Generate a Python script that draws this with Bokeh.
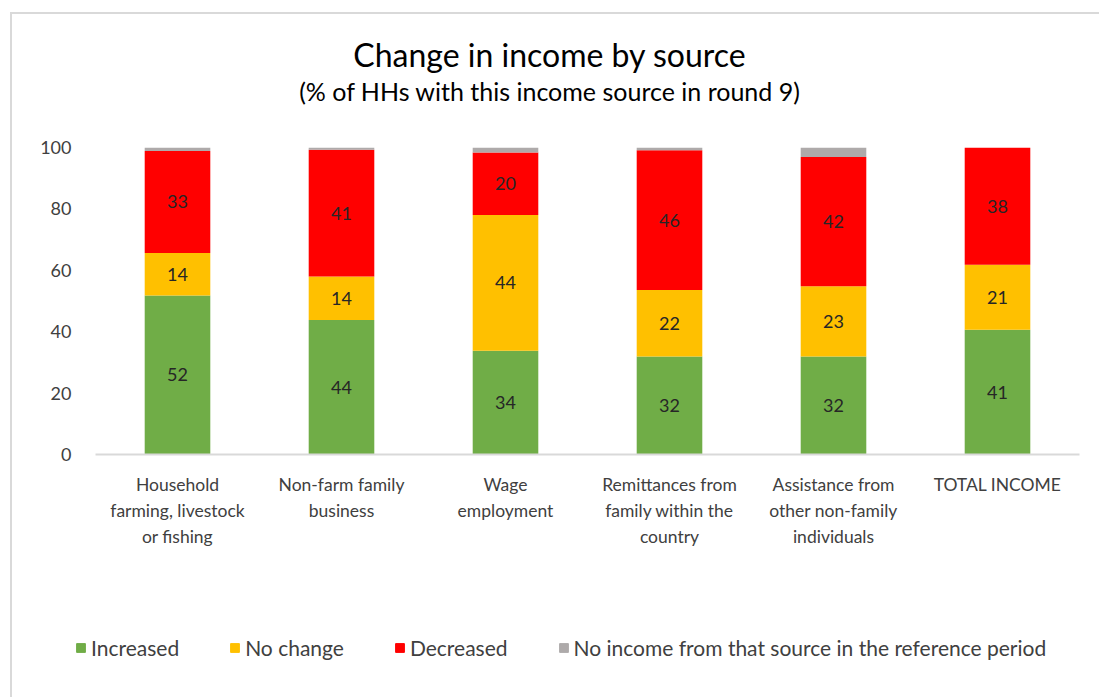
from bokeh.plotting import figure
from bokeh.layouts import column, row
from bokeh.models import ColumnDataSource, FactorRange, Range1d, Legend, LegendItem, FixedTicker, LabelSet, Div
from bokeh.core.properties import value
from bokeh.embed import file_html
from bokeh.resources import INLINE

title_text = "Change in income by source"
subtitle_text = "(% of HHs with this income source in round 9)"
categories = ["Household\nfarming, livestock\nor fishing", "Non-farm family\nbusiness", "Wage\nemployment",
              "Remittances from\nfamily within the\ncountry", "Assistance from\nother non-family\nindividuals", "TOTAL INCOME"]
increased = [51.8, 43.8, 33.8, 31.9, 31.9, 40.6]
no_change = [13.8, 14.2, 44.2, 21.7, 22.9, 21.2]
decreased = [33.3, 41.3, 20.4, 45.5, 42.1, 38.2]
no_income = [1.1, 0.7, 1.6, 0.9, 3.1, 0.0]
series_names = ["Increased", "No change", "Decreased", "No income from that source in the reference period"]
colors = ["#70AD47", "#FFC000", "#FF0000", "#AEAAAA"]
yticks = [0, 20, 40, 60, 80, 100]

FONT = "Lato"
keys = ["inc", "noc", "dec", "non"]
data = dict(cat=categories, inc=increased, noc=no_change, dec=decreased, non=no_income)
src = ColumnDataSource(data)

# title block (with the chart-area frame line drawn as an overlay)
head = Div(text=(
    '<div style="position:absolute;left:10px;top:12px;width:1100px;height:700px;'
    'border:2px solid #D9D9D9;z-index:10;pointer-events:none;box-sizing:border-box"></div>'
    f'<div style="font-family:Lato;font-size:32px;line-height:40px;text-align:center;color:#000;'
    f'padding-top:35px;width:1099px">{title_text}</div>'
    f'<div style="font-family:Lato;font-size:25px;line-height:30px;text-align:center;color:#000;'
    f'margin-top:1px;width:1099px">{subtitle_text}</div>'),
    width=1099, height=120, margin=0, styles={"overflow": "visible", "z-index": "10"})

p = figure(x_range=FactorRange(factors=categories), y_range=Range1d(0, 100),
           frame_width=984, frame_height=307, output_backend="svg", toolbar_location=None,
           min_border_left=95, min_border_right=20, min_border_top=27, min_border_bottom=126)
p.title.visible = False

renderers = p.vbar_stack(keys, x="cat", width=0.4, color=colors, source=src, line_color=None)

lab_y = {"cat": [], "y": [], "t": []}
for i, c in enumerate(categories):
    base = 0
    for arr in (increased, no_change, decreased):
        v = arr[i]
        lab_y["cat"].append(c)
        lab_y["y"].append(base + v / 2)
        lab_y["t"].append(str(int(round(v))))
        base += v
lsrc = ColumnDataSource(lab_y)
p.add_layout(LabelSet(x="cat", y="y", text="t", source=lsrc, text_align="center", text_baseline="middle",
                      text_font=value(FONT), text_font_size=value("18px"), text_color="#262626"))

p.grid.visible = False
p.outline_line_color = None
p.background_fill_color = "white"

p.yaxis.ticker = FixedTicker(ticks=yticks)
p.yaxis.axis_line_color = None
p.yaxis.major_tick_line_color = None
p.yaxis.minor_tick_line_color = None
p.yaxis.major_label_text_font = FONT
p.yaxis.major_label_text_font_size = "18px"
p.yaxis.major_label_text_color = "#404040"
p.yaxis.major_label_standoff = 18

p.xaxis.axis_line_color = "#D9D9D9"
p.xaxis.axis_line_width = 2
p.xaxis.major_tick_line_color = None
p.xaxis.minor_tick_line_color = None
p.xaxis.major_label_text_font = FONT
p.xaxis.major_label_text_font_size = "17.5px"
p.xaxis.major_label_text_color = "#404040"
p.xaxis.major_label_text_line_height = 1.25
p.xaxis.major_label_text_align = "center"
p.xaxis.major_label_standoff = 13
p.x_range.range_padding = 0
p.x_range.group_padding = 0

# legend strip
lg = figure(width=1099, height=97, x_range=Range1d(0, 1), y_range=Range1d(0, 1),
            output_backend="svg", toolbar_location=None, min_border=0)
lg.axis.visible = False
lg.grid.visible = False
lg.outline_line_color = None
lg.title.visible = False
dummies = [lg.vbar(x=[5], top=[5], bottom=[4], width=0.1, color=c) for c in colors]
legend = Legend(items=[LegendItem(label=n, renderers=[r]) for n, r in zip(series_names, dummies)],
                orientation="horizontal", location=(75, 17), glyph_width=11, glyph_height=11,
                label_text_font=FONT, label_text_font_size="21px", label_text_color="#404040",
                spacing=50, label_standoff=5, border_line_color=None, background_fill_alpha=0,
                margin=0, padding=0)
lg.add_layout(legend, "center")

layout = column(head, p, row(lg), spacing=0)
open("out.html", "w").write(file_html(layout, INLINE))
